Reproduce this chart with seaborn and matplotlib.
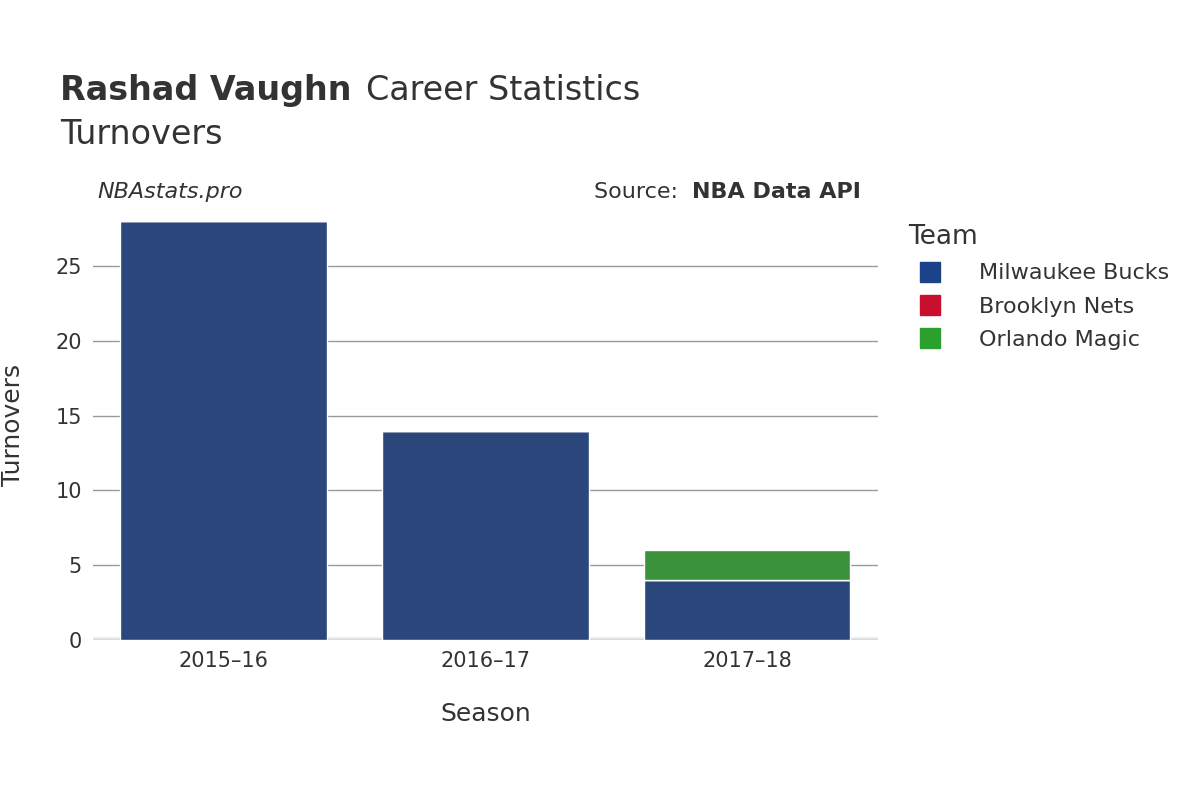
import seaborn as sns
import pandas as pd
import matplotlib.pyplot as plt
from matplotlib.lines import Line2D

seasons = ["2015–16", "2016–17", "2017–18"]
teams = ["Milwaukee Bucks", "Brooklyn Nets", "Orlando Magic"]
colors = ["#1c4289", "#c8102e", "#2ca02c"]
bucks = [28, 14, 4]
nets = [0, 0, 0]
magic = [0, 0, 2]

df = pd.DataFrame({"Season": seasons, "Milwaukee Bucks": bucks,
                   "Brooklyn Nets": nets, "Orlando Magic": magic})

plt.rcParams["font.family"] = "DejaVu Sans"
fig = plt.figure(figsize=(12, 8), dpi=100)
ax = fig.add_axes([0.0775, 0.2, 0.654, 0.5375])

bottom = [0] * len(seasons)
for team, col in zip(teams, colors):
    sns.barplot(data=df, x="Season", y=team, color=col, width=0.79,
                bottom=bottom, ax=ax, edgecolor="white", linewidth=1)
    bottom = [b + v for b, v in zip(bottom, df[team])]

ax.set_ylim(0, 28.75)
ax.set_xlim(-0.5, 2.5)
ax.set_yticks([0, 5, 10, 15, 20, 25])
ax.grid(axis="y", color="#999999", linewidth=1)
ax.set_axisbelow(True)
for s in ax.spines.values():
    s.set_visible(False)
ax.axhline(0, color="#e8e8ee", linewidth=4, zorder=0)
ax.tick_params(length=0, labelsize=15, colors="#333333", pad=8)
ax.set_xlabel("Season", fontsize=18, color="#333333", labelpad=22)
ax.set_ylabel("Turnovers", fontsize=18, color="#333333", labelpad=22)

fig.text(0.05, 0.875, "Rashad Vaughn", fontsize=24, fontweight="bold", color="#333333")
fig.text(0.305, 0.875, "Career Statistics", fontsize=24, color="#333333")
fig.text(0.05, 0.82, "Turnovers", fontsize=24, color="#333333")
fig.text(0.081, 0.752, "NBAstats.pro", fontsize=16, style="italic", color="#333333")
fig.text(0.495, 0.752, "Source: ", fontsize=16, color="#333333")
fig.text(0.577, 0.752, "NBA Data API", fontsize=16, fontweight="bold", color="#333333")

handles = [Line2D([], [], marker="s", linestyle="", markersize=15, color=c) for c in colors]
leg = fig.legend(handles, teams, title="Team", loc="upper left",
                 bbox_to_anchor=(0.74, 0.745), frameon=False, fontsize=16,
                 title_fontsize=19, labelspacing=0.6, handletextpad=1.2)
leg._legend_box.align = "left"
for t in leg.get_texts():
    t.set_color("#333333")
leg.get_title().set_color("#333333")

fig.savefig("out.png", dpi=100)
